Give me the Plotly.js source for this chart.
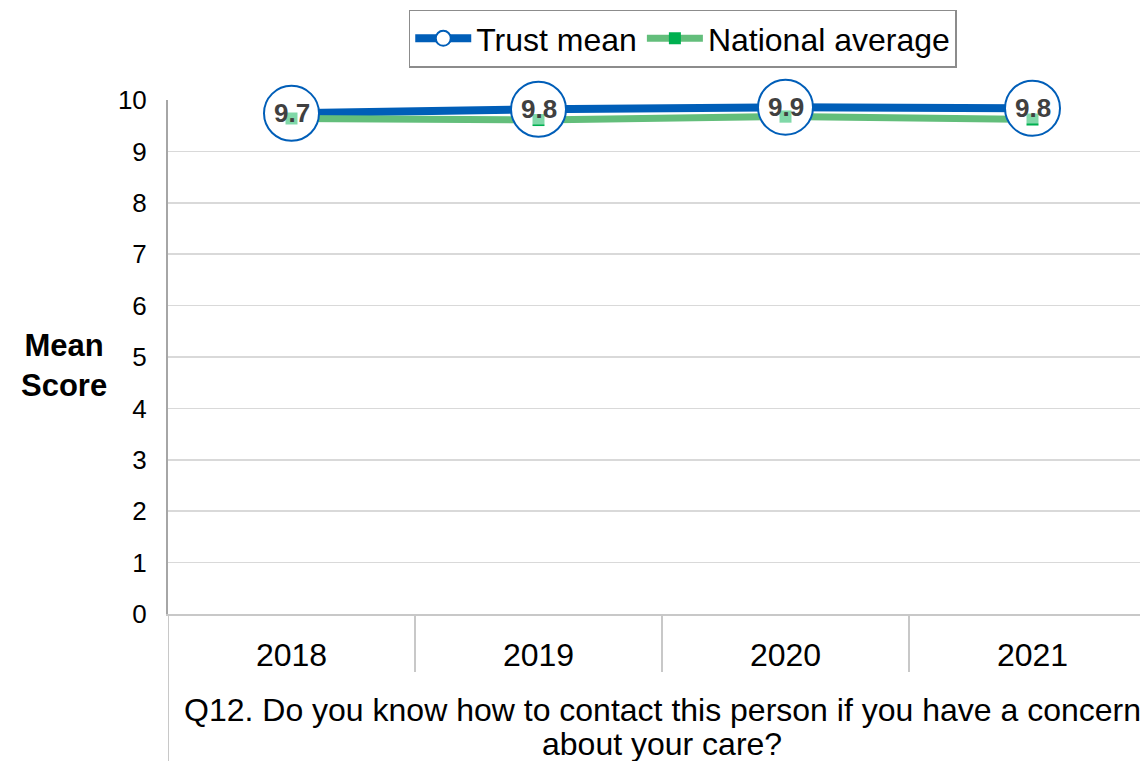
<!DOCTYPE html>
<html>
<head>
<meta charset="utf-8">
<script src="https://cdn.plot.ly/plotly-3.0.1.min.js"></script>
<style>
html,body{margin:0;padding:0;overflow:hidden;background:#fff;width:1140px;height:761px;}
#chart{width:1160px;height:761px;}
</style>
</head>
<body>
<div id="chart"></div>
<script>
const years = ['2018', '2019', '2020', '2021'];
const trustMean = [9.74, 9.82, 9.86, 9.84];
const nationalAverage = [9.64, 9.61, 9.68, 9.62];
const trustLabels = ['9.7', '9.8', '9.9', '9.8'];
const yTicks = [0, 1, 2, 3, 4, 5, 6, 7, 8, 9, 10];

const BLUE = '#005EB8';
const GREEN_LINE = '#63BE7B';
const GREEN_MARK = '#00B050';
const FONT = 'Liberation Sans, Arial, sans-serif';

const traces = [
  {x: years, y: trustMean, mode: 'lines', line: {color: BLUE, width: 8}, showlegend: false, hoverinfo: 'skip', cliponaxis: false},
  {x: years, y: nationalAverage, mode: 'lines', line: {color: GREEN_LINE, width: 7}, showlegend: false, hoverinfo: 'skip', cliponaxis: false},
  {x: years, y: trustMean, mode: 'markers', marker: {symbol: 'circle', size: 55, color: '#ffffff', line: {color: BLUE, width: 2}}, showlegend: false, cliponaxis: false},
  {x: years, y: nationalAverage, mode: 'markers', marker: {symbol: 'square', size: 12, color: GREEN_MARK}, showlegend: false, cliponaxis: false},
  {x: [null], y: [null], name: 'Trust mean', mode: 'lines+markers', line: {color: BLUE, width: 8}, marker: {symbol: 'circle', size: 15, color: '#ffffff', line: {color: BLUE, width: 2}}},
  {x: [null], y: [null], name: 'National average', mode: 'lines+markers', line: {color: GREEN_LINE, width: 7}, marker: {symbol: 'square', size: 12, color: GREEN_MARK}}
];

const labelAnns = years.map((yr, i) => ({
  x: i, y: trustMean[i], xref: 'x', yref: 'y', text: '<b>' + trustLabels[i] + '</b>',
  showarrow: false, font: {family: FONT, size: 26, color: '#404040'},
  bgcolor: 'rgba(255,255,255,0.5)', borderpad: 0, xanchor: 'center', yanchor: 'middle'
}));

const otherAnns = [
  {x: -0.1053, y: 0.484, xref: 'paper', yref: 'paper', text: '<b>Mean<br>Score</b>', showarrow: false,
   font: {family: FONT, size: 31, color: '#000'}, xanchor: 'center', yanchor: 'middle'},
  {x: 0.5, y: -0.1868, xref: 'paper', yref: 'paper', text: 'Q12. Do you know how to contact this person if you have a concern', showarrow: false,
   font: {family: FONT, size: 32, color: '#000'}, xanchor: 'center', yanchor: 'middle'},
  {x: 0.5, y: -0.2530, xref: 'paper', yref: 'paper', text: 'about your care?', showarrow: false,
   font: {family: FONT, size: 32, color: '#000'}, xanchor: 'center', yanchor: 'middle'}
];

const shapes = [
  {type: 'line', xref: 'x', yref: 'paper', x0: -0.5, x1: -0.5, y0: -0.3, y1: 0, line: {color: '#c8c8c8', width: 2}},
  {type: 'line', xref: 'x', yref: 'paper', x0: 0.5, x1: 0.5, y0: -0.113, y1: 0, line: {color: '#c8c8c8', width: 2}},
  {type: 'line', xref: 'x', yref: 'paper', x0: 1.5, x1: 1.5, y0: -0.113, y1: 0, line: {color: '#c8c8c8', width: 2}},
  {type: 'line', xref: 'x', yref: 'paper', x0: 2.5, x1: 2.5, y0: -0.113, y1: 0, line: {color: '#c8c8c8', width: 2}}
];

const layout = {
  width: 1160, height: 761,
  margin: {l: 168, r: 4, t: 100, b: 147},
  paper_bgcolor: '#ffffff', plot_bgcolor: '#ffffff',
  font: {family: FONT, color: '#000'},
  showlegend: true,
  legend: {orientation: 'h', x: 0.521, xanchor: 'center', y: 1.176, yanchor: 'top',
    font: {family: FONT, size: 32, color: '#000'}, bordercolor: '#8c8c8c', borderwidth: 1.5,
    bgcolor: '#ffffff', itemwidth: 56, traceorder: 'normal'},
  xaxis: {type: 'category', range: [-0.5, 3.5], showgrid: false, showline: true, linecolor: '#c8c8c8', linewidth: 2,
    ticks: '', tickfont: {family: FONT, size: 32, color: '#000'}, ticklabelstandoff: 12, fixedrange: true},
  yaxis: {range: [0, 10], tickvals: yTicks, ticktext: yTicks.map(String), showgrid: true, gridcolor: '#d9d9d9', gridwidth: 1.5,
    zeroline: false, showline: true, linecolor: '#a6a6a6', linewidth: 2, ticks: '',
    tickfont: {family: FONT, size: 26, color: '#000'}, ticklabelstandoff: 14, fixedrange: true},
  annotations: labelAnns.concat(otherAnns),
  shapes: shapes
};

Plotly.newPlot('chart', traces, layout, {displayModeBar: false, staticPlot: true});
</script>
</body>
</html>
